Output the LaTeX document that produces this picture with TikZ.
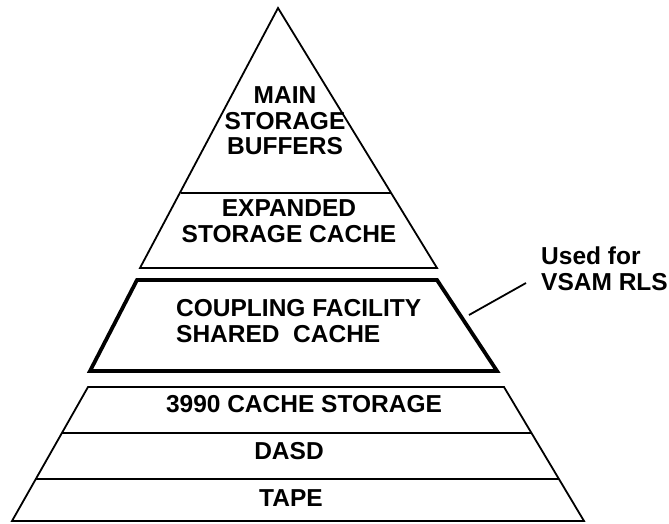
\documentclass[tikz,border=0pt]{standalone}
\usepackage{fontspec}
\setmainfont{Liberation Sans}
\usetikzlibrary{calc}
\begin{document}
\begin{tikzpicture}[x=1pt,y=-1pt,
  thinline/.style={line width=1.8pt, line join=miter},
  thickline/.style={line width=3.8pt, line join=miter},
  lbl/.style={inner sep=0pt, align=center, font=\bfseries\fontsize{24.5}{25.5}\selectfont},
  side/.style={inner sep=0pt, align=left, font=\bfseries\fontsize{24.5}{25.5}\selectfont}]
\useasboundingbox (0,0) rectangle (669,523);
% top triangle + expanded storage
\coordinate (apex) at (278,8);
\coordinate (eL) at (140,268);
\coordinate (eR) at (437,268);
\coordinate (tL) at (181,193);
\coordinate (tR) at (391,193);
\draw[thinline] (apex) -- (eR) -- (eL) -- cycle;
\draw[thinline] (tL) -- (tR);
% coupling facility
\coordinate (cTL) at (137,280);
\coordinate (cTR) at (437,280);
\coordinate (cBR) at (497,371);
\coordinate (cBL) at (90,371);
\draw[thickline] (cTL) -- (cTR) -- (cBR) -- (cBL) -- cycle;
% bottom block
\coordinate (bTL) at (88,387);
\coordinate (bTR) at (504,387);
\coordinate (bBR) at (584,521);
\coordinate (bBL) at (12,521);
\draw[thinline] (bTL) -- (bTR) -- (bBR) -- (bBL) -- cycle;
\draw[thinline] ($(bTL)!0.3433!(bBL)$) coordinate (d1L) -- ($(bTR)!0.3433!(bBR)$) coordinate (d1R);
\draw[thinline] ($(bTL)!0.6866!(bBL)$) coordinate (d2L) -- ($(bTR)!0.6866!(bBR)$) coordinate (d2R);
% texts
\node[lbl] (main) at (285,121) {MAIN\\STORAGE\\BUFFERS};
\node[lbl] (exp) at (289,221) {EXPANDED\\STORAGE CACHE};
\node[side, anchor=west] (cf) at (176,321) {COUPLING FACILITY\\SHARED\ \ CACHE};
\node[lbl] (c3990) at (304,404.5) {3990 CACHE STORAGE};
\node[lbl] (dasd) at (289,451.5) {DASD};
\node[lbl] (tape) at (291,498.5) {TAPE};
\node[side, anchor=west] (used) at (541,268.5) {Used for\\VSAM RLS};
\coordinate (leadA) at (469,315);
\coordinate (leadB) at (526,283);
\draw[line width=1.8pt] (leadA) -- (leadB);
\end{tikzpicture}
\end{document}
